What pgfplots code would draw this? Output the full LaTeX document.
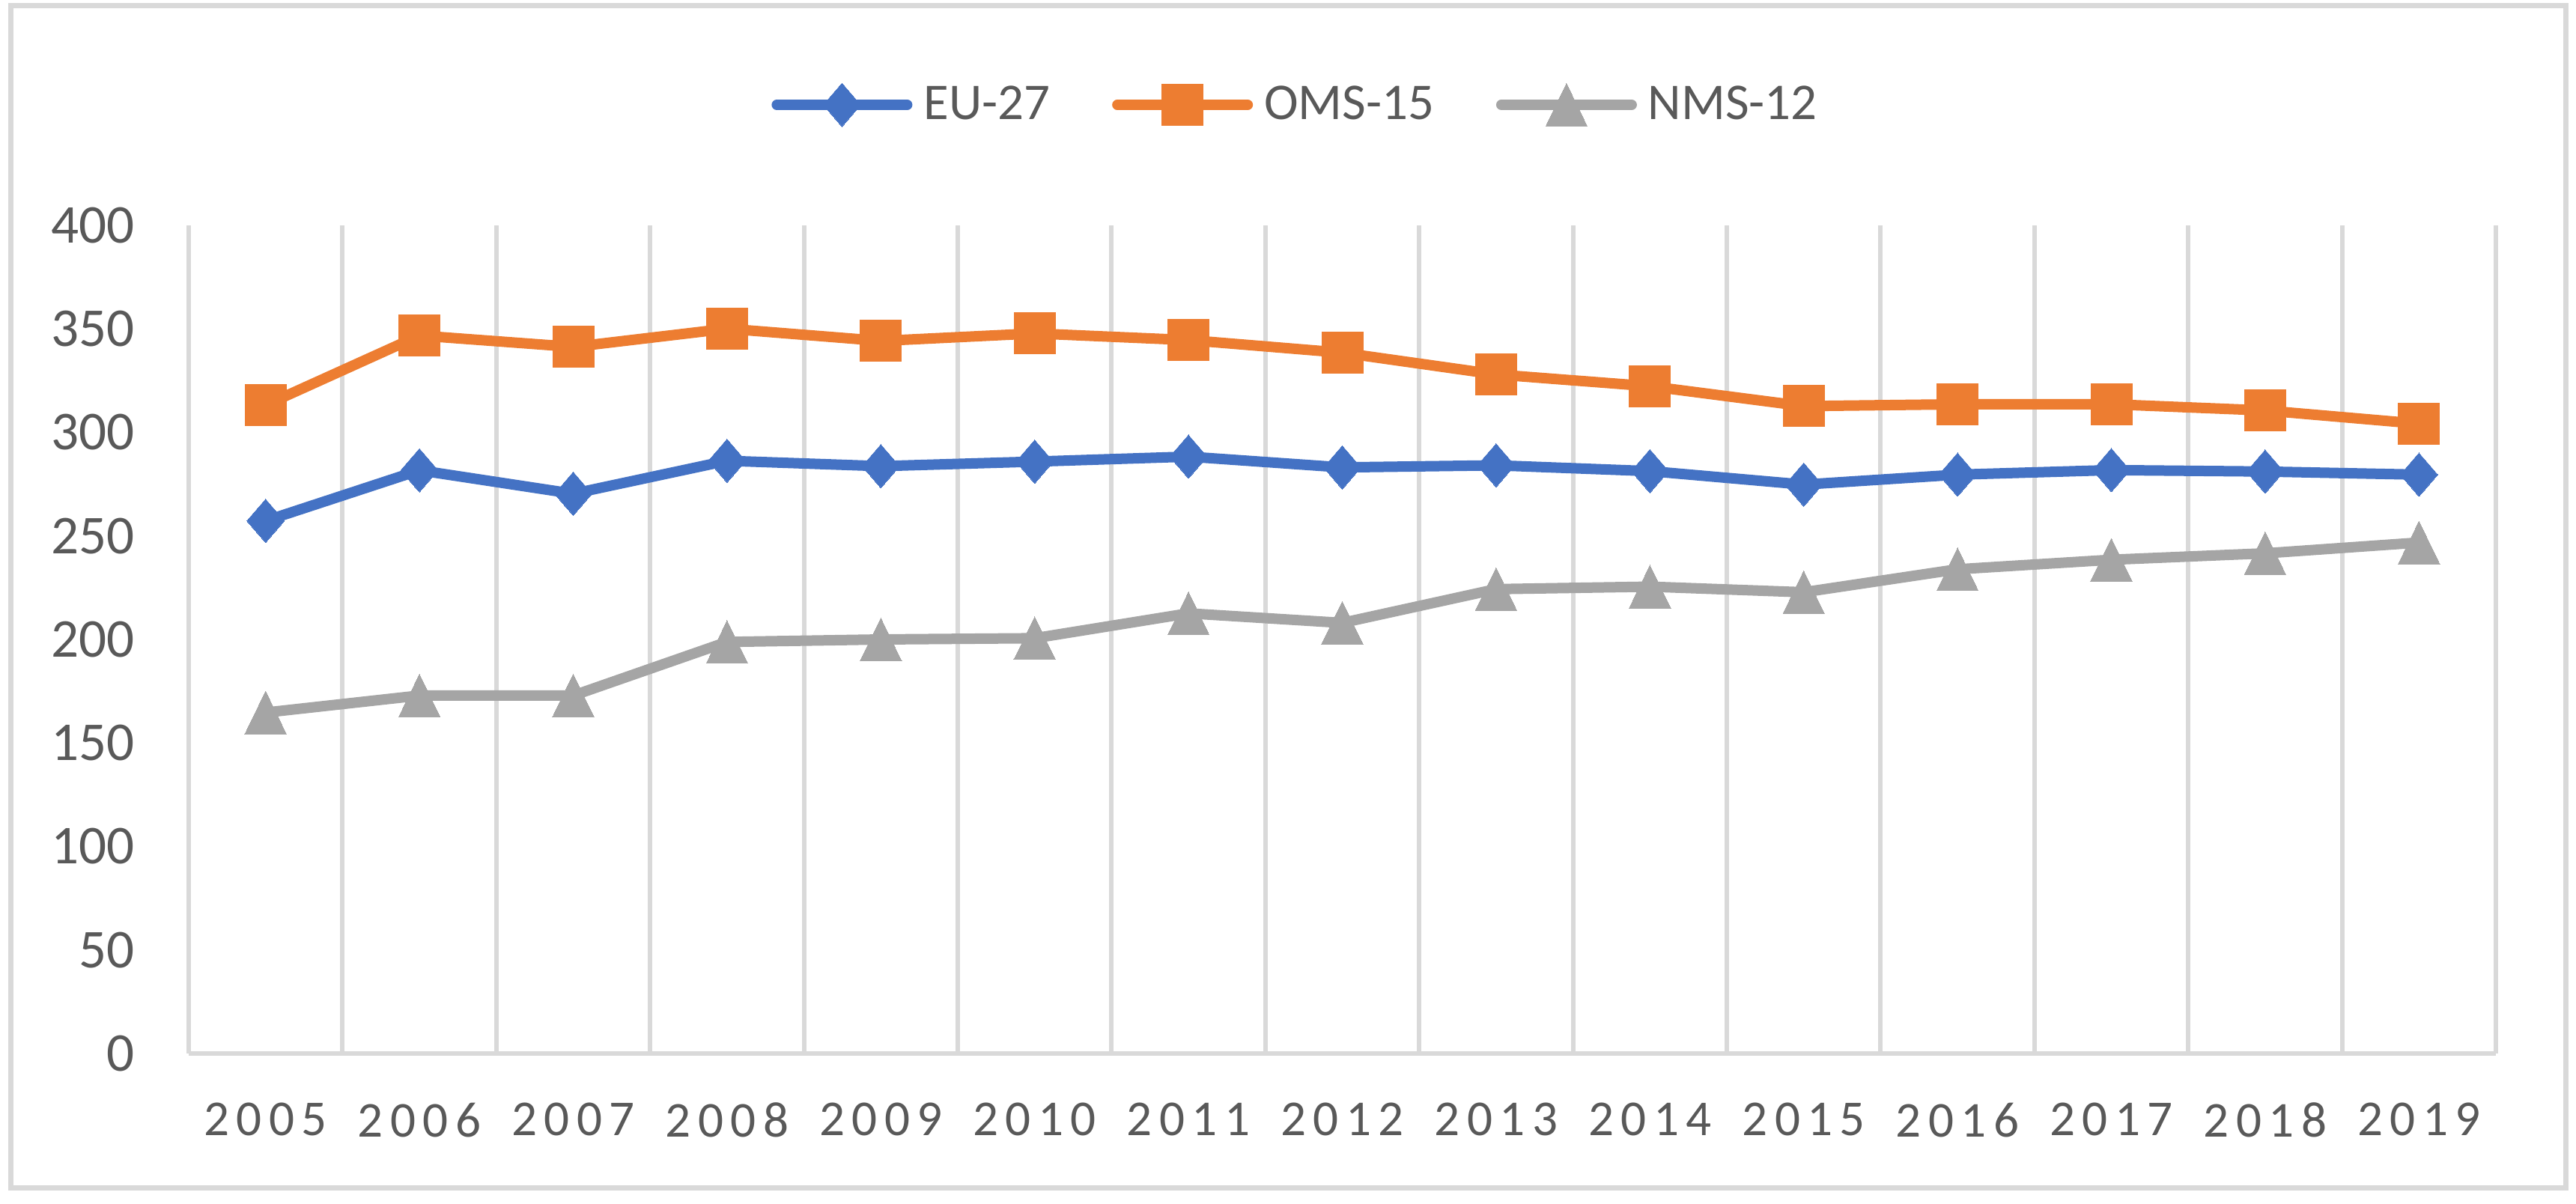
\documentclass[border=0pt]{standalone}
\usepackage{fontspec}
\setmainfont{Carlito}
\usepackage{pgfplots}
\pgfplotsset{compat=1.18}
\definecolor{cEU}{HTML}{4472C4}
\definecolor{cOMS}{HTML}{ED7D31}
\definecolor{cNMS}{HTML}{A5A5A5}
\definecolor{gridgray}{HTML}{D9D9D9}
\definecolor{tickgray}{HTML}{595959}
\begin{document}
\begin{tikzpicture}
\begin{axis}[
  at={(25.2mm,-140.7mm)}, anchor=south west,
  scale only axis, width=308.1mm, height=110.6mm,
  xmin=-0.5, xmax=14.5, ymin=0, ymax=400,
  xtick={0,...,14},
  xticklabels={2005,2006,2007,2008,2009,2010,2011,2012,2013,2014,2015,2016,2017,2018,2019},
  minor xtick={-0.5,0.5,...,14.5},
  xminorgrids=true, xmajorgrids=false, ymajorgrids=false,
  minor grid style={draw=gridgray, line width=0.6mm},
  ytick={0,50,...,400},
  major tick length=0pt, minor tick length=0pt,
  axis lines=left,
  axis line style={-, draw=gridgray, line width=0.6mm},
  /pgf/number format/assume math mode=true,
  yticklabel style={anchor=east, inner sep=0pt, xshift=-7.2mm, text=tickgray,
    font=\fontsize{20.8pt}{25pt}\selectfont},
  xticklabel style={anchor=north, inner sep=0pt, yshift=-6.5mm, text=tickgray,
    font=\fontsize{19.1pt}{23pt}\selectfont\addfontfeature{LetterSpace=14}},
  legend columns=3,
  legend style={at={(axis description cs:0.5,1)}, anchor=center, yshift=16.1mm, xshift=-6.4mm,
    draw=none, fill=none, inner sep=0pt,
    nodes={inner sep=0pt, anchor=west, text=tickgray, font=\fontsize{19.6pt}{24pt}\selectfont},
    /tikz/every odd column/.append style={column sep=1.5mm},
    /tikz/every even column/.append style={column sep=8.3mm}},
  legend image code/.code={\draw[#1, line cap=round, mark repeat=2, mark phase=2]
    plot coordinates {(0mm,0mm) (8.7mm,0mm) (17.4mm,0mm)};},
  every axis plot/.append style={line width=1.4mm, line join=round},
  clip=false,
]
\addplot[color=cEU, mark=diamond*, mark size=2.9mm, mark options={xscale=1.15, solid, line width=0pt}]
 coordinates {(0,257.3) (1,281.7) (2,270.4) (3,286.3) (4,283.7) (5,285.9) (6,288.3) (7,283.1) (8,284.1) (9,281.3) (10,274.8) (11,279.6) (12,281.8) (13,281.1) (14,279.6)};
\addlegendentry{EU-27}
\addplot[color=cOMS, mark=square*, mark size=2.75mm, mark options={solid, line width=0pt}]
 coordinates {(0,313.2) (1,346.8) (2,341.3) (3,350.1) (4,344.2) (5,347.8) (6,344.6) (7,338.5) (8,328.0) (9,322.3) (10,312.7) (11,313.6) (12,313.6) (13,310.6) (14,304.2)};
\addlegendentry{OMS-15}
\addplot[color=cNMS, mark=triangle*, mark size=3.2mm, mark options={yscale=1.19, yshift=-0.8mm, solid, line width=0pt}]
 coordinates {(0,164.7) (1,172.9) (2,172.9) (3,198.8) (4,200.0) (5,200.6) (6,212.6) (7,208.0) (8,224.3) (9,225.5) (10,222.8) (11,233.9) (12,238.5) (13,241.6) (14,246.8)};
\addlegendentry{NMS-12}
\end{axis}
\draw[draw=gridgray, line width=0.7mm] (1.4mm,-0.8mm) rectangle (342.6mm,-158.6mm);
\pgfresetboundingbox
\useasboundingbox (0,0) rectangle (344mm,-160.8mm);
\end{tikzpicture}
\end{document}
